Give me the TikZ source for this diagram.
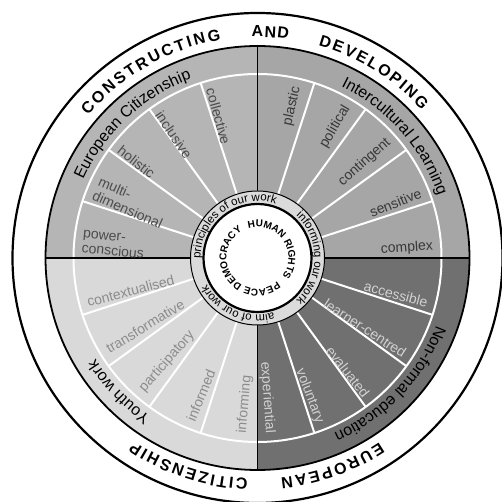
\documentclass[tikz,border=0pt]{standalone}
\usepackage{fontspec}
\setmainfont{Liberation Sans}
\usetikzlibrary{decorations.text}
\definecolor{tlfill}{gray}{0.71}
\definecolor{trfill}{gray}{0.65}
\definecolor{brfill}{gray}{0.44}
\definecolor{blfill}{gray}{0.85}
\definecolor{bandfill}{gray}{0.86}
\definecolor{tltext}{gray}{0.30}
\definecolor{trtext}{gray}{0.22}
\definecolor{brtext}{gray}{0.82}
\definecolor{bltext}{gray}{0.55}
\tikzset{
  itemL/.style={font=\fontsize{14}{15}\selectfont, inner sep=0pt, anchor=west, align=left},
  itemR/.style={font=\fontsize{14}{15}\selectfont, inner sep=0pt, anchor=east, align=right},
  spokeline/.style={white, line width=2pt},
  divider/.style={black, line width=1.5pt},
}
\begin{document}
\begin{tikzpicture}[x=1pt,y=1pt]
\useasboundingbox (0,0) rectangle (502,502);
\begin{scope}[shift={(257.5,244)}]
\coordinate (O) at (0,0);
% outer circle
\draw[line width=2.2pt] (O) circle[radius=245pt];
% quadrants
\fill[tlfill] (O) -- (90:212pt) arc[start angle=90, end angle=180, radius=212pt] -- cycle;
\fill[trfill] (O) -- (0:212pt) arc[start angle=0, end angle=90, radius=212pt] -- cycle;
\fill[brfill] (O) -- (270:212pt) arc[start angle=270, end angle=360, radius=212pt] -- cycle;
\fill[blfill] (O) -- (180:212pt) arc[start angle=180, end angle=270, radius=212pt] -- cycle;
% white ring and spokes
\draw[white, line width=2pt] (O) circle[radius=184pt];
\foreach \a in {18,36,54,72,108,126,144,162,198,216,234,252,288,306,324,342}
  \draw[spokeline] (\a:67pt) -- (\a:184pt);
\foreach \a in {0,90,180,270}
  \draw[divider] (\a:67pt) -- (\a:212pt);
\draw[line width=1.8pt] (O) circle[radius=212pt];
% central band
\fill[bandfill] (O) circle[radius=67pt];
\draw[line width=1pt] (O) circle[radius=67pt];
\fill[white] (O) circle[radius=54pt];
\draw[line width=2.2pt] (O) circle[radius=54pt];

% outer ring words
\path[decorate, decoration={text along path, text align={fit to path}, text={|\bfseries\fontsize{16}{16}\selectfont|CONSTRUCTING}}]
  (140:221pt) arc[start angle=140, end angle=99.5, radius=221pt];
\path[decorate, decoration={text along path, text align={fit to path}, text={|\bfseries\fontsize{16}{16}\selectfont|AND}}]
  (91.5:221pt) arc[start angle=91.5, end angle=82, radius=221pt];
\path[decorate, decoration={text along path, text align={fit to path}, text={|\bfseries\fontsize{16}{16}\selectfont|DEVELOPING}}]
  (74:221pt) arc[start angle=74, end angle=42, radius=221pt];
\path[decorate, decoration={text along path, text align={fit to path}, text={|\bfseries\fontsize{16}{16}\selectfont|EUROPEAN}}]
  (-56.5:221pt) arc[start angle=-56.5, end angle=-84, radius=221pt];
\path[decorate, decoration={text along path, text align={fit to path}, text={|\bfseries\fontsize{16}{16}\selectfont|CITIZENSHIP}}]
  (-92.5:221pt) arc[start angle=-92.5, end angle=-124, radius=221pt];

% category labels
\path[decorate, decoration={text along path, text align=center, text={|\fontsize{16}{16}\selectfont|European Citizenship}}]
  (168:191pt) arc[start angle=168, end angle=98, radius=191pt];
\path[decorate, decoration={text along path, text align=center, text={|\fontsize{16}{16}\selectfont|Intercultural Learning}}]
  (76.5:191pt) arc[start angle=76.5, end angle=6.5, radius=191pt];
\path[decorate, decoration={text along path, text align=center, text={|\fontsize{16}{16}\selectfont|Non-formal education}}]
  (-8:191pt) arc[start angle=-8, end angle=-79, radius=191pt];
\path[decorate, decoration={text along path, text align=center, text={|\fontsize{16}{16}\selectfont|Youth work}}]
  (-110:191pt) arc[start angle=-110, end angle=-162, radius=191pt];

% band texts
\path[decorate, decoration={text along path, text align=center, text={|\fontsize{11.5}{12}\selectfont|principles of our work}}]
  (192:57pt) arc[start angle=192, end angle=60, radius=57pt];
\path[decorate, decoration={text along path, text align=center, text={|\fontsize{11.5}{12}\selectfont|informing our work}}]
  (60:57pt) arc[start angle=60, end angle=-60, radius=57pt];
\path[decorate, decoration={text along path, text align=center, text={|\fontsize{11.5}{12}\selectfont|aim of our work}}]
  (-58:57pt) arc[start angle=-58, end angle=-168, radius=57pt];

% inner texts
\path[decorate, decoration={text along path, text align=center, text={|\bfseries\fontsize{10}{11}\selectfont|HUMAN RIGHTS}}]
  (120:31pt) arc[start angle=120, end angle=-50, radius=31pt];
\path[decorate, decoration={text along path, text align=center, text={|\bfseries\fontsize{10}{11}\selectfont|PEACE}}]
  (-30:31pt) arc[start angle=-30, end angle=-134, radius=31pt];
\path[decorate, decoration={text along path, text align=center, text={|\bfseries\fontsize{10}{11}\selectfont|DEMOCRACY}}]
  (250:31pt) arc[start angle=250, end angle=110, radius=31pt];

% items: European Citizenship
\node[itemL, text=tltext, rotate=354.6] (pc) at (174.6:176pt) {power-\\conscious};
\node[itemL, text=tltext, rotate=336.4] (md) at (156.4:176pt) {multi-\\dimensional};
\node[itemL, text=tltext, rotate=321.6] (ho) at (141.6:176pt) {holistic};
\node[itemL, text=tltext, rotate=304.2] (in) at (124.2:176pt) {inclusive};
\node[itemL, text=tltext, rotate=285.4] (co) at (105.4:176pt) {collective};
% items: Intercultural Learning
\node[itemR, text=trtext, rotate=77.2] (pl) at (77.2:176pt) {plastic};
\node[itemR, text=trtext, rotate=59.4] (po) at (59.4:176pt) {political};
\node[itemR, text=trtext, rotate=41.8] (ct) at (41.8:176pt) {contingent};
\node[itemR, text=trtext, rotate=21.8] (se) at (21.8:176pt) {sensitive};
\node[itemR, text=trtext, rotate=3.8] (cx) at (3.8:176pt) {complex};
% items: Non-formal education
\node[itemR, text=brtext, rotate=-14.7] (ac) at (-14.7:176pt) {accessible};
\node[itemR, text=brtext, rotate=-33.1] (lc) at (-33.1:176pt) {learner-centred};
\node[itemR, text=brtext, rotate=-51.6] (ev) at (-51.6:176pt) {evaluated};
\node[itemR, text=brtext, rotate=-69.3] (vo) at (-69.3:176pt) {voluntary};
\node[itemR, text=brtext, rotate=-86] (ex) at (-86:176pt) {experiential};
% items: Youth work
\node[itemL, text=bltext, rotate=14.5] (cl) at (194.5:176pt) {contextualised};
\node[itemL, text=bltext, rotate=31.3] (tr) at (211.3:176pt) {transformative};
\node[itemL, text=bltext, rotate=48.9] (pa) at (228.9:176pt) {participatory};
\node[itemL, text=bltext, rotate=67.6] (id) at (247.6:176pt) {informed};
\node[itemL, text=bltext, rotate=85] (ig) at (265:176pt) {informing};
\end{scope}
\end{tikzpicture}
\end{document}
